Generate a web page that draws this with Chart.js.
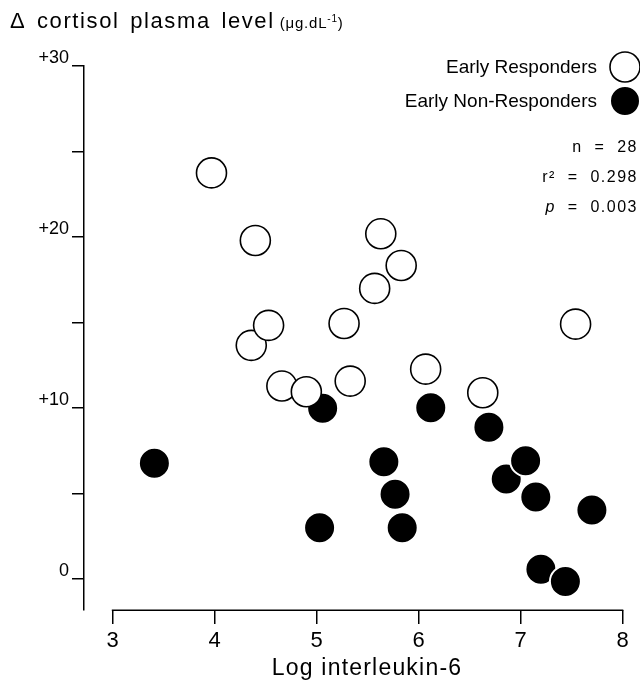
<!DOCTYPE html>
<html><head><meta charset="utf-8">
<script src="https://cdn.jsdelivr.net/npm/chart.js@4"></script>
<style>html,body{margin:0;padding:0;background:#fff}canvas{display:block}</style>
</head><body>
<canvas id="c" width="640" height="680"></canvas>
<script>
// ---- data ----
const responderX    = [3.97, 4.36, 4.40, 4.53, 4.66, 4.90, 5.27, 5.33, 5.57, 5.63, 5.83, 6.07, 6.63, 7.54];
const responderY    = [23.75, 13.67, 19.80, 14.84, 11.29, 10.96, 14.95, 11.58, 17.00, 20.19, 18.34, 12.28, 10.90, 14.91];
const nonResponderX = [3.41, 5.03, 5.06, 5.66, 5.77, 5.84, 6.12, 6.69, 6.86, 7.05, 7.15, 7.20, 7.44, 7.70];
const nonResponderY = [6.78, 3.01, 9.99, 6.87, 4.96, 3.01, 10.02, 8.88, 5.86, 6.93, 4.81, 0.58, -0.14, 4.05];
const seriesNames   = ['Early Responders', 'Early Non-Responders'];
const xTicks        = [3, 4, 5, 6, 7, 8];
const yTicks        = [0, 5, 10, 15, 20, 25, 30];
const yTickLabels   = {0: '0', 10: '+10', 20: '+20', 30: '+30'};
const xTitle        = 'Log interleukin-6';
const yTitle        = 'Δ cortisol plasma level';
const statN         = '28';
const statR2        = '0.298';
const statP         = '0.003';

const FONT = '"Liberation Sans", Arial, Helvetica, sans-serif';

function toPoints(xs, ys) { return xs.map((x, i) => ({x: x, y: ys[i]})); }

const decor = {
  id: 'decor',
  afterDraw(chart) {
    const ctx = chart.ctx;
    const xs = chart.scales.x, ys = chart.scales.y;
    ctx.save();
    // detached x axis line from first to last tick
    ctx.strokeStyle = '#000';
    ctx.lineWidth = 1.5;
    ctx.beginPath();
    const yb = Math.round(ys.bottom) + 0.25;
    ctx.moveTo(xs.getPixelForValue(xTicks[0]) - 0.75, yb);
    ctx.lineTo(xs.getPixelForValue(xTicks[xTicks.length - 1]) + 0.75, yb);
    ctx.stroke();

    // x title
    ctx.fillStyle = '#000';
    ctx.letterSpacing = '1.2px';
    ctx.font = '23px ' + FONT;
    ctx.textAlign = 'center';
    ctx.textBaseline = 'alphabetic';
    ctx.fillText(xTitle, 367, 675);

    // y title
    ctx.textAlign = 'left';
    let x = 10, base = 28;
    ctx.font = '22px ' + FONT;
    ctx.letterSpacing = '1.6px';
    ctx.wordSpacing = '3px';
    ctx.fillText(yTitle, x, base);
    x += ctx.measureText(yTitle).width + 5;
    ctx.wordSpacing = '0px';
    ctx.font = '15px ' + FONT;
    ctx.letterSpacing = '0.8px';
    const u1 = '(μg.dL';
    ctx.fillText(u1, x, base);
    x += ctx.measureText(u1).width;
    ctx.font = '10px ' + FONT;
    ctx.fillText('-1', x, base - 6);
    x += ctx.measureText('-1').width;
    ctx.font = '15px ' + FONT;
    ctx.fillText(')', x, base);

    // legend
    const legY = [67, 101];
    ctx.letterSpacing = '0px';
    ctx.font = '19px ' + FONT;
    ctx.textAlign = 'right';
    ctx.textBaseline = 'middle';
    [0, 1].forEach(i => {
      const ds = chart.data.datasets[i];
      ctx.fillStyle = '#000';
      ctx.fillText(seriesNames[i], 597, legY[i] + 1);
      ctx.beginPath();
      ctx.arc(625, legY[i], 15, 0, Math.PI * 2);
      ctx.fillStyle = ds.backgroundColor;
      ctx.fill();
      ctx.lineWidth = ds.borderWidth;
      ctx.strokeStyle = ds.borderColor;
      ctx.stroke();
    });

    // statistics
    ctx.fillStyle = '#000';
    ctx.font = '16px ' + FONT;
    ctx.letterSpacing = '1.5px';
    ctx.textAlign = 'right';
    ctx.fillText('n  =  ' + statN, 638, 148);
    ctx.fillText('r²  =  ' + statR2, 638, 178);
    const pv = '  =  ' + statP;
    ctx.fillText(pv, 638, 208);
    const w = ctx.measureText(pv).width;
    ctx.font = 'italic 16px ' + FONT;
    ctx.fillText('p', 638 - w, 208);
    ctx.restore();
  }
};

new Chart(document.getElementById('c'), {
  type: 'scatter',
  data: {
    datasets: [
      { label: seriesNames[0], data: toPoints(responderX, responderY),
        backgroundColor: '#ffffff', borderColor: '#000000', borderWidth: 1.6,
        pointRadius: 15, pointHoverRadius: 15, clip: false },
      { label: seriesNames[1], data: toPoints(nonResponderX, nonResponderY),
        backgroundColor: '#000000', borderColor: '#ffffff', borderWidth: 2,
        pointRadius: 15.5, pointHoverRadius: 15.5, clip: false }
    ]
  },
  options: {
    responsive: false,
    animation: false,
    devicePixelRatio: 1,
    events: [],
    layout: { padding: { top: 66, right: 16, left: 0, bottom: 0 } },
    plugins: { legend: { display: false }, tooltip: { enabled: false }, title: { display: false } },
    scales: {
      x: {
        type: 'linear', min: 2.72, max: 8,
        afterBuildTicks: s => { s.ticks = xTicks.map(v => ({value: v})); },
        afterFit: s => { s.height = 70; },
        border: { display: false },
        grid: { drawOnChartArea: false, drawTicks: true, tickLength: 14, color: '#000', lineWidth: 1.5 },
        ticks: { color: '#000', font: { family: FONT, size: 22 }, padding: 4, maxRotation: 0, autoSkip: false,
                 callback: v => String(v) },
        title: { display: false, text: xTitle }
      },
      y: {
        type: 'linear', min: -1.8, max: 30,
        afterBuildTicks: s => { s.ticks = yTicks.map(v => ({value: v})); },
        afterFit: s => { s.width = 84; },
        border: { display: true, color: '#000', width: 1.5 },
        grid: { drawOnChartArea: false, drawTicks: true, tickLength: 12, color: '#000', lineWidth: 1.5 },
        ticks: { color: '#000', font: { family: FONT, size: 18 }, padding: 3, autoSkip: false, labelOffset: -8,
                 callback: v => (yTickLabels[v] !== undefined ? yTickLabels[v] : '') }
      }
    }
  },
  plugins: [decor]
});
</script>
</body></html>
